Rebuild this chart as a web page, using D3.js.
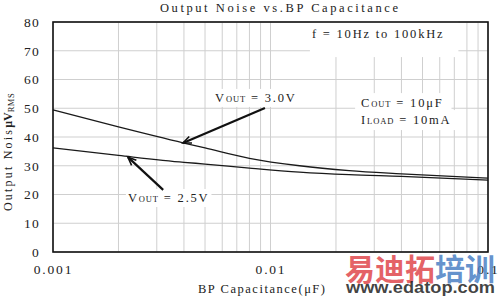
<!DOCTYPE html>
<html>
<head>
<meta charset="utf-8">
<script src="https://cdn.jsdelivr.net/npm/d3@7"></script>
<style>
  body { margin: 0; background: #fff; }
  svg { display: block; }
  text { font-family: "Liberation Serif", "DejaVu Serif", serif; fill: #222; }
</style>
</head>
<body>
<svg id="chart" width="500" height="297"></svg>
<script>
// data
const capacitance = [0.001, 0.002, 0.004, 0.005, 0.008, 0.0136, 0.023, 0.04, 0.1];
const noise30 = [49.4, 43.5, 37.9, 36.2, 32.6, 30.0, 28.3, 27.2, 25.7];
const noise25 = [36.2, 33.6, 31.2, 30.6, 29.2, 27.8, 26.9, 26.3, 25.0];
const xTicks = [0.001, 0.01, 0.1];
const xTickLabels = ["0.001", "0.01", "0.1"];
const yTicks = [0, 10, 20, 30, 40, 50, 60, 70, 80];

const margin = { top: 22, right: 12, bottom: 45, left: 53 },
  W = 500, H = 297,
  width = W - margin.left - margin.right,
  height = H - margin.top - margin.bottom;

const svg = d3.select("#chart");
const g = svg.append("g").attr("transform", `translate(${margin.left},${margin.top})`);

const x = d3.scaleLog().domain([0.001, 0.1]).range([0, width]);
const y = d3.scaleLinear().domain([0, 80]).range([height, 0]);

// grid - log minor lines
const vGrid = [];
[0.001, 0.01].forEach(d => { for (let k = 1; k <= 9; k++) vGrid.push(k * d); });
vGrid.push(0.1);

g.append("g").selectAll("line").data(vGrid).join("line")
  .attr("x1", d => x(d)).attr("x2", d => x(d))
  .attr("y1", 0).attr("y2", height)
  .attr("stroke", "#cfcfcf").attr("stroke-width", 1);

g.append("g").selectAll("line").data(yTicks).join("line")
  .attr("x1", 0).attr("x2", width)
  .attr("y1", d => y(d)).attr("y2", d => y(d))
  .attr("stroke", "#cfcfcf").attr("stroke-width", 1);

// white boxes behind labels (they cover the grid in the original)
const boxes = g.append("g");

// curves
const line = d3.line().x(d => x(d[0])).y(d => y(d[1])).curve(d3.curveMonotoneX);
[noise30, noise25].forEach(s => {
  g.append("path")
    .datum(capacitance.map((c, i) => [c, s[i]]))
    .attr("d", line)
    .attr("fill", "none")
    .attr("stroke", "#1a1a1a")
    .attr("stroke-width", 1.3);
});

// frame
g.append("rect").attr("width", width).attr("height", height)
  .attr("fill", "none").attr("stroke", "#111").attr("stroke-width", 1.6);

// axes (labels only, no tick marks)
const yAxis = g.append("g").call(d3.axisLeft(y).tickValues(yTicks).tickSize(0).tickPadding(13));
yAxis.select(".domain").remove();
yAxis.selectAll("text").attr("font-size", 13.5).attr("letter-spacing", 1.2)
  .style("font-family", "'Liberation Serif', serif").attr("fill", "#333");

const xAxis = g.append("g").attr("transform", `translate(0,${height})`)
  .call(d3.axisBottom(x).tickValues(xTicks).tickFormat((d, i) => xTickLabels[i]).tickSize(0).tickPadding(12));
xAxis.select(".domain").remove();
xAxis.selectAll("text").attr("font-size", 13.5).attr("letter-spacing", 1.8)
  .style("font-family", "'Liberation Serif', serif").attr("fill", "#333");

// titles
svg.append("text").attr("x", 160).attr("y", 12)
  .attr("font-size", 12.5).attr("textLength", 238).attr("lengthAdjust", "spacing")
  .text("Output Noise vs.BP Capacitance");

svg.append("text").attr("x", 198).attr("y", 293)
  .attr("font-size", 12.5).attr("textLength", 127).attr("lengthAdjust", "spacing")
  .text("BP Capacitance(\u03bcF)");

const yt = svg.append("text")
  .attr("transform", "translate(12,211) rotate(-90)")
  .attr("font-size", 12).attr("letter-spacing", 2.2);
yt.append("tspan").text("Output Nois");
yt.append("tspan").attr("font-weight", "bold").attr("letter-spacing", 0).text("\u03bcV");
yt.append("tspan").attr("font-size", 8.5).attr("dy", 2).attr("letter-spacing", 0.5).text("RMS");

// annotations, placed in data space (x = capacitance, y = noise at baseline)
function label(parts, cx, cy, pad, extra) {
  const t = g.append("text").attr("x", x(cx)).attr("y", y(cy)).attr("font-size", 12.5).attr("letter-spacing", 1.8);
  parts.forEach(p => {
    const s = t.append("tspan").text(p[0]);
    if (p[1]) s.attr("font-size", 8.5).attr("letter-spacing", 0.9);
  });
  const b = t.node().getBBox();
  const e = extra || [0, 0, 0, 0];
  boxes.append("rect")
    .attr("x", b.x - pad - e[0]).attr("y", b.y - pad - e[1])
    .attr("width", b.width + 2 * pad + e[0] + e[2])
    .attr("height", b.height + 2 * pad + e[1] + e[3])
    .attr("fill", "#fff");
  return t;
}

label([["f = 10Hz to 100kHz"]], 0.0155, 74.4, 2, [0, 6, 12, 14]);
label([["V"], ["OUT", true], [" = 3.0V"]], 0.00556, 52.2, 2);
label([["C"], ["OUT", true], [" = 10\u03bcF"]], 0.0261, 50.4, 3, [3, 0, 5, 0]);
label([["I"], ["LOAD", true], [" = 10mA"]], 0.0261, 44.5, 3, [3, 0, 5, 0]);
label([["V"], ["OUT", true], [" = 2.5V"]], 0.00221, 17.4, 2);

// arrows
function arrow(x0, y0, x1, y1) {
  const X0 = x(x0), Y0 = y(y0), X1 = x(x1), Y1 = y(y1);
  const a = Math.atan2(Y1 - Y0, X1 - X0), L = 9, w = 0.4;
  g.append("line").attr("x1", X0).attr("y1", Y0).attr("x2", X1).attr("y2", Y1)
    .attr("stroke", "#111").attr("stroke-width", 2.2);
  g.append("path")
    .attr("d", `M${X1 - L * Math.cos(a - w)},${Y1 - L * Math.sin(a - w)}L${X1},${Y1}L${X1 - L * Math.cos(a + w)},${Y1 - L * Math.sin(a + w)}`)
    .attr("fill", "none").attr("stroke", "#111").attr("stroke-width", 1.6);
}
arrow(0.00943, 50.1, 0.00396, 37.9);
arrow(0.00321, 21.6, 0.00221, 33.0);

// watermark
const wm = svg.append("text").attr("x", 345).attr("y", 280)
  .style("font-family", "'Noto Sans CJK SC', sans-serif").attr("font-size", 30).attr("font-weight", "bold");
wm.append("tspan").attr("fill", "#e0474c").attr("fill-opacity", 0.85).text("易迪拓");
wm.append("tspan").attr("fill", "#4a7fc4").attr("fill-opacity", 0.85).text("培训");
svg.append("text").attr("x", 346).attr("y", 293)
  .style("font-family", "'Liberation Sans', Arial, sans-serif").attr("font-size", 16).attr("font-weight", "bold")
  .attr("fill", "#4a7fc4").attr("fill-opacity", 0.85)
  .attr("textLength", 149).attr("lengthAdjust", "spacingAndGlyphs")
  .text("www.edatop.com");
</script>
</body>
</html>
